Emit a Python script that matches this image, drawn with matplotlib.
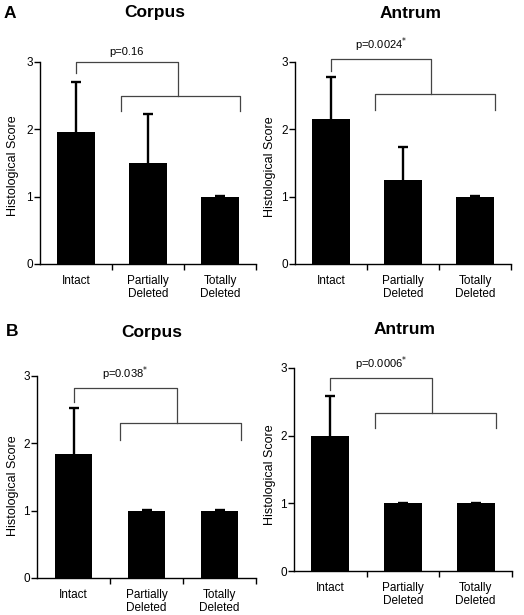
import matplotlib
matplotlib.use('Agg')
import matplotlib.pyplot as plt

plt.rcParams['font.family'] = ['Liberation Sans', 'DejaVu Sans']

W, H = 524, 615

categories = ['Intact', 'Partially\nDeleted', 'Totally\nDeleted']

# mean histological score and upper error (SD) per group
a_corpus_mean = [1.96, 1.50, 1.00]
a_corpus_err = [0.74, 0.73, 0.01]
a_antrum_mean = [2.15, 1.25, 1.00]
a_antrum_err = [0.62, 0.49, 0.01]
b_corpus_mean = [1.84, 1.00, 1.00]
b_corpus_err = [0.69, 0.01, 0.01]
b_antrum_mean = [1.99, 1.00, 1.00]
b_antrum_err = [0.60, 0.01, 0.01]

p_labels = ['p=0.16', r'p=0.0024$^{*}$', r'p=0.038$^{*}$', r'p=0.0006$^{*}$']

# bracket levels: (top1, leg1, join_x, top2, leg2, left2, right2)
brackets = [
    (3.00, 2.84, 1.41, 2.49, 2.27, 0.63, 2.28),
    (3.04, 2.87, 1.39, 2.52, 2.29, 0.61, 2.28),
    (2.82, 2.62, 1.42, 2.30, 2.05, 0.64, 2.30),
    (2.85, 2.67, 1.40, 2.33, 2.11, 0.62, 2.28),
]

means = [a_corpus_mean, a_antrum_mean, b_corpus_mean, b_antrum_mean]
errs = [a_corpus_err, a_antrum_err, b_corpus_err, b_antrum_err]

# axes boxes in pixels: left, right, top, bottom
boxes = [(40, 256, 62, 264), (295, 511, 62, 264),
         (37, 256, 376, 578), (294, 512, 368, 571)]
ylabel_pos = [(13, 166), (270, 167), (13, 486), (270, 475)]

fig = plt.figure(figsize=(W / 100, H / 100), dpi=100)

x = [0, 1, 2]
for i in range(4):
    l, r, t, b = boxes[i]
    ax = fig.add_axes([l / W, 1 - b / H, (r - l) / W, (b - t) / H])
    ax.bar(x, means[i], width=0.52, color='black', zorder=2)
    tops = [m + e for m, e in zip(means[i], errs[i])]
    ax.vlines(x, means[i], tops, color='black', lw=1.7, zorder=3)
    ax.plot(x, tops, ls='none', marker='_', markersize=7, mew=1.7,
            color='black', zorder=3)
    ax.set_xlim(-0.5, 2.5)
    ax.set_ylim(0, 3)
    for s in ['top', 'right']:
        ax.spines[s].set_visible(False)
    for s in ['left', 'bottom']:
        ax.spines[s].set_linewidth(1.0)
    ax.set_yticks([0, 1, 2, 3])
    ax.tick_params(axis='y', direction='out', length=4, width=1,
                   labelsize=8.5, pad=1)
    ax.set_xticks(x)
    ax.set_xticklabels(categories, fontsize=8.5, linespacing=1.05)
    ax.tick_params(axis='x', which='major', length=0, pad=8)
    ax.set_xticks([0.5, 1.5, 2.5], minor=True)
    ax.tick_params(axis='x', which='minor', direction='out', length=4, width=1)

    t1, l1, xj, t2, l2, xl, xr = brackets[i]
    ax.plot([0, 0, xj, xj], [l1, t1, t1, t2], color='#444444', lw=0.9,
            clip_on=False)
    ax.plot([xl, xl, xr, xr], [l2, t2, t2, l2], color='#444444', lw=0.9,
            clip_on=False)
    ax.text(xj / 2, t1 + 0.08, p_labels[i], ha='center', va='bottom',
            fontsize=8)

    yx, yy = ylabel_pos[i]
    fig.text(yx / W, 1 - yy / H, 'Histological Score', rotation=90,
             ha='center', va='center', fontsize=9)

fig.text(10 / W, 1 - 13 / H, 'A', fontsize=12.5, fontweight='bold',
         ha='center', va='center')
fig.text(155 / W, 1 - 13 / H, 'Corpus', fontsize=12.5, fontweight='bold',
         ha='center', va='center')
fig.text(411 / W, 1 - 13 / H, 'Antrum', fontsize=12.5, fontweight='bold',
         ha='center', va='center')
fig.text(12 / W, 1 - 332 / H, 'B', fontsize=12.5, fontweight='bold',
         ha='center', va='center')
fig.text(152 / W, 1 - 332 / H, 'Corpus', fontsize=12.5, fontweight='bold',
         ha='center', va='center')
fig.text(405 / W, 1 - 330 / H, 'Antrum', fontsize=12.5, fontweight='bold',
         ha='center', va='center')

fig.savefig('out.png', dpi=100)
